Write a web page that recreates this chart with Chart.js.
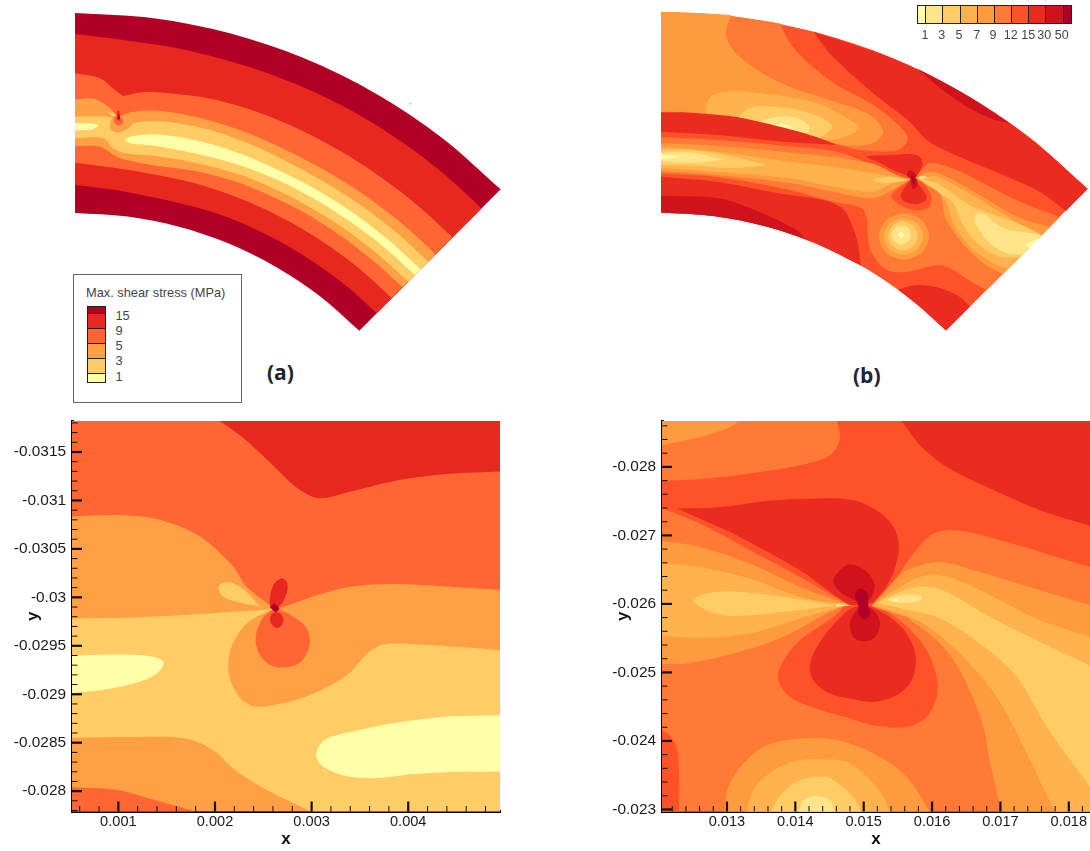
<!DOCTYPE html>
<html><head><meta charset="utf-8">
<script src="https://cdn.jsdelivr.net/npm/chart.js@4"></script>
<style>
html,body{margin:0;padding:0;background:#fff;width:1090px;height:851px;overflow:hidden}
canvas{position:absolute}
.t{position:absolute;font-family:"Liberation Sans",Arial,sans-serif;white-space:nowrap;color:#444}
.cap{position:absolute;font:bold 21px "Open Sans",sans-serif;color:#1c2530}
.sw{position:absolute;box-sizing:border-box;border:1px solid #222}
</style></head><body>
<canvas id="pa" width="450" height="340" style="left:60px;top:0"></canvas>
<canvas id="pb" width="440" height="340" style="left:650px;top:0"></canvas>
<canvas id="pc" width="505" height="436" style="left:0;top:415px"></canvas>
<canvas id="pd" width="490" height="436" style="left:600px;top:415px"></canvas>
<div id="ui"></div>
<script>
/* Colour levels */
const Y='#FFFFAA',L='#FFCC66',A='#FFA044',O='#FF6633',R='#E8271F',D='#B00026';
const c0='#FFFFAA',c1='#FFE48A',c2='#FFCC66',c3='#FFB24D',c4='#FF9B3F',c5='#FF7A35',c6='#FF5229',c7='#EC2B20',c8='#D0121C',c9='#B00026';

/* Legends */
const legendALabels=['15','9','5','3','1'];
const legendBLabels=['1','3','5','7','9','12','15','30','50'];

/* Curved-domain readings: [angle in degrees, radius] about the sector's centre */
const pol=a=>a.map(p=>{const t=p[0]*Math.PI/180;return [75+p[1]*Math.sin(t),615-p[1]*Math.cos(t),p[2]];});

/* Panel (a) contours, [x,y]; third element marks a sharp corner */
const aSector=[[75,13],[153.6,18.2],[230.8,33.5],[305.4,58.8],[376,93.7],[441.5,137.4],[500.7,189.3,1],[359.3,330.7,1],[319.7,296],[276,266.9],[228.8,243.6],[179,226.7],[127.5,216.5],[75,213]];
const aRed=[[75,34],...pol([[5,577],[10,576],[15,575],[20,575],[25,575],[30,575],[35,575],[40,575],[45,575,1],[45,426.7,1],[40,426.5],[35,426],[30,426],[25,426],[20,426],[15,425],[10,425],[5,427]]),[75,185]];
const aOrange=[[75,73.3],[100,78.3],[115,90],[123.3,96,1],[143.3,92.3],...pol([[10,530],[15,534],[20,535],[25,535],[30,534.5],[35,534],[40,534],[45,534,1],[45,448,1],[40,448],[35,448],[30,448],[25,448],[20,448],[15,448],[10,447.5],[5,449]]),[75,162.7]];
const aAmber=[[75,99.3],[93.3,98.7],[103,103],[110,108.3],[118,117,1],[133.3,111.7],...pol([[10,511.5],[15,512.5],[20,512],[25,510.5],[30,510],[35,510],[40,510],[45,510,1],[45,463.4,1],[40,463],[35,463],[30,463],[25,462.5],[20,462],[15,460],[10,456.5]]),[126.7,160],[116.7,156.7],[100,146.7],[75,146]];
const aLight=[[75,116.7],[106.7,116.7],[112,117.5,1],[110,125],[111.7,130.7],[120,132.3],[128.3,128.3],[135,122.7],...pol([[10,501],[15,503.5],[20,502.5],[25,500.5],[30,499.7],[35,499.5],[40,499.5],[45,499.7,1],[45,471.4,1],[40,471],[35,471],[30,470.5],[25,470.5],[20,470],[15,468],[10,466]]),[126.7,153.5],[113.3,148.3],[103.3,138.3],[75,138]];
const aYellow=[...pol([[45,489,1],[45,481,1],[40,480.5],[35,480],[30,480],[25,480],[20,479],[15,477],[10,476]]),[130,143.3],[125,140],[133.3,136],...pol([[10,488],[15,490],[20,490],[25,489],[30,489],[35,489],[40,489]])];
const aYellowLeft=[[75,123.3],[93.3,123.7],[98.3,125],[95,128.3],[88.3,130],[75,130.3]];
const aLobe=[[108.3,111.7],[113.3,113.3],[117,116.5,1],[111.7,115.7]];
const aBlob=[[115,116.7],[114,120.7],[116.7,125],[121.7,124.3],[123.3,120.7],[120,116.7]];
const aRedTip=[[117.3,111],[119.3,111],[119.6,117],[120,120],[117.5,120.5],[116.7,117.3]];
const aDarkTip=[[118,115],[119.5,115],[119.5,119],[118,119]];
const aSpeck=[[409.5,103],[411,103],[411,104.5],[409.5,104.5]];

/* Panel (b) contours */
const bSector=[[661,12],[739.8,17.2],[817.2,32.6],[892,57.9],[962.8,92.9],[1028.4,136.7],[1087.7,188.8,1],[946,330.5,1],[906.3,295.8],[862.5,266.5],[815.2,243.2],[765.3,226.2],[713.6,216],[661,212.5]];
const bC7Top=[[813.3,31.7],[892,57.9],[962.8,92.9],[1028.4,136.7],[1087.7,188.8,1],[1066,211,1],[1040,192],[1010,178],[960,157],[928,141],[910,122],[883,101],[852,75],[829,53]];
const bC8Top=[[916.7,68.3],[962.8,92.9],[1010,123.3,1],[993,119.3],[966.7,106.7],[940,88.3]];
const bC5Top=[[661,12],[700,13.3],[739.8,17.2],[780,23.4,1],[790,43],[813,67],[837,85],[870,103],[893,120],[908,138],[898,150],[860,150],[838,145],[783,135],[661,122]];
const bC4Top=[[661,12],[700,13.3],[731,15,1],[726,33],[733,50],[757,70],[790,87],[823,98],[870,115],[883,132],[873,143],[845,145],[783,133],[661,122]];
const bC3Lobe=[[706,116],[707,103],[713,95],[733,91],[767,94],[817,103],[850,120],[859,128],[850,135],[827,140],[790,134],[737,122]];
const bC2Lobe=[[737,119],[750,108],[777,106.7],[810,113],[832,125],[827,133],[817,138],[777,128]];
const bC1Lobe=[[758,122],[777,116.7],[797,118],[809,126],[807,133],[777,128]];
const bC0Lobe=[[771.7,125],[781.7,124],[791.7,127.3],[792,131],[772,127]];
const bLens=[[661,112.3],[683,112.3],[707,114],[737,117],[777,126],[810,135],[838,145,1],[783,141.7],[717,135],[661,131.7]];
const bC5Mid=[[661,137.3],[717,140],[783,145.7],[837,151.7],[873,165],[903,176.7],[912,178,1],[921.7,170],[930,163],[957,170],[990,186.7],[1023,203],[1060,217,1],[987,290,1],[973,283],[950,268],[937,265],[907,272],[887,270],[871.7,253],[868,236.7],[867,220],[861.7,208],[833,201.7],[790,190],[717,177],[661,173.5]];
const bC4Left=[[661,143.3],[717,146],[783,151.7],[870,163],[903,178],[912,179,1],[892,190],[873,198],[833,191.7],[790,183],[717,175],[661,171]];
const bC3Left=[[661,147],[717,151.7],[790,161.7],[833,166.7],[873,173],[907,179],[912,179.5,1],[893,183],[873,191.7],[833,186.7],[790,178.3],[717,171.7],[661,168.3]];
const bC2Left=[[661,150],[694,150],[733,156.7],[768,165,1],[733,168],[694,165.7],[661,165]];
const bC1Left=[[661,152.7],[694,152.7],[722.7,159.3,1],[700,162.7],[661,161.7]];
const bC0Left=[[661,155.5],[670,155],[680,156.7,1],[670,158.3],[661,159]];
const bC2Near=[[871.7,179.3],[890,176.7],[910,180,1],[890,183],[876,182]];
const bC7Low=[[661,176.7],[717,181.7],[783,194],[823,200],[843,209],[852,225],[857,240],[861,265.6,1],[815.2,243.2],[765.3,226.2],[713.6,216],[661,212.5]];
const bC8Low=[[661,195.7],[717,198],[750,208],[795,229],[806,239,1],[765.3,226.2],[713.6,216],[661,212.5]];
const bC7Tip=[[898,289.5],[917,285],[940,288],[960,297],[970,306.5,1],[946,330.5,1],[922,308.5]];
const bCircle4=[[929,236.5],[921.7,252.8],[904,259.5],[886.3,252.8],[879,236.5],[886.3,220.2],[904,213.5],[921.7,220.2]];
const bCircle3=[[923,236.5],[917.3,249.2],[903.5,254.5],[889.7,249.2],[884,236.5],[889.7,223.8],[903.5,218.5],[917.3,223.8]];
const bCircle2=[[917.5,236],[913.3,246.3],[903,250.5],[892.7,246.3],[888.5,236],[892.7,225.7],[903,221.5],[913.3,225.7]];
const bCircle1=[[911,235],[908.2,241.7],[901.5,244.5],[894.8,241.7],[892,235],[894.8,228.3],[901.5,225.5],[908.2,228.3]];
const bCircle0=[[904,235],[901,238],[898,235],[901,232]];
const bC4Right=[[915,178],[930,171.7],[943,175],[976.7,193.3],[1017,216.7],[1050,227,1],[1003,274,1],[983,263],[960,240],[945,216.7],[940,193],[925,181]];
const bC3Right=[[917,178.5],[936.7,176.7],[963,190],[996.7,210],[1040,237,1],[1008,269,1],[993,263],[970,246.7],[953,223],[946.7,203],[930,183]];
const bC2Right=[[918,179],[930,180.7],[943,186.7],[973,206.7],[1017,223],[1042,235,1],[1020,257,1],[1000,256.7],[977,243],[961.7,223],[953,203],[938,191.7]];
const bC1Right=[[975,215],[981.7,212.7],[1003,228],[1030,233],[1042,235,1],[1022,255,1],[1003,251.7],[986.7,240],[975,223]];
const bC0Right=[[1025,245],[1031,242],[1039,238,1],[1030,248]];
const bC1Near=[[916.7,178.3],[921.7,176],[927,177.3],[921.7,179.3]];
const bC6Blob=[[911,179,1],[891.7,195],[896.7,203],[913,210],[928,208],[931.7,198],[923,183],[914,179]];
const bC7Blob=[[911,179,1],[900.7,195],[905,201.7],[918,204],[926.7,198],[918,183.3],[914,179]];
const bC7Up=[[912,177],[893,170],[880,163],[866.7,156.7],[893,155],[916.7,155],[922.7,163.3],[916.7,176.7]];
const bC8a=[[906.7,175],[910,170],[916,175],[914,179],[910,178]];
const bC8b=[[910.7,181.7],[913.3,189],[917.3,185],[916,178],[911,178]];
const bC9=[[911,176],[913,175.5],[915,183],[913,184]];

/* Panel (c) contours, x and y in units of 0.001 */
const cXMajor=[1,2,3,4],cXMinor=[0.6,0.8,1.2,1.4,1.6,1.8,2.2,2.4,2.6,2.8,3.2,3.4,3.6,3.8,4.2,4.4,4.6,4.8];
const cYMajor=[-31.5,-31,-30.5,-30,-29.5,-29,-28.5,-28],cYMinor=[-31.8,-31.7,-31.6,-31.4,-31.3,-31.2,-31.1,-30.9,-30.8,-30.7,-30.6,-30.4,-30.3,-30.2,-30.1,-29.9,-29.8,-29.7,-29.6,-29.4,-29.3,-29.2,-29.1,-28.9,-28.8,-28.7,-28.6,-28.4,-28.3,-28.2,-28.1,-27.9,-27.8];
const cBase=[[0.52,-31.82,1],[4.95,-31.82,1],[4.95,-27.79,1],[0.52,-27.79,1]];
const cRedTop=[[2.052,-31.82],[2.293,-31.645],[2.541,-31.42],[2.852,-31.128],[3.076,-31.024],[3.403,-31.093],[3.921,-31.214],[4.438,-31.276],[4.95,-31.3,1],[4.95,-31.82,1]];
const cAmber=[[0.52,-30.834],[1.052,-30.848],[1.431,-30.8],[1.845,-30.628],[2.19,-30.317],[2.328,-30.11],[2.617,-29.886,1],[2.714,-29.903],[3.059,-30.024],[3.403,-30.11],[3.852,-30.138],[4.438,-30.11],[4.95,-30.076,1],[4.95,-27.79,1],[0.52,-27.79,1]];
const cOrangeLow=[[0.52,-28.041],[0.983,-28.014],[1.328,-27.921],[1.793,-27.79,1],[0.52,-27.79,1]];
const cLight=[[0.52,-29.783],[1.155,-29.793],[1.845,-29.828],[2.466,-29.869],[2.6,-29.88,1],[2.328,-29.731],[2.172,-29.49],[2.138,-29.248],[2.224,-29.007],[2.369,-28.886],[2.541,-28.876],[2.886,-28.955],[3.231,-29.11],[3.403,-29.23],[3.576,-29.421],[3.748,-29.514],[4.093,-29.514],[4.61,-29.483],[4.95,-29.455,1],[4.95,-27.79,1],[2.99,-27.79,1],[2.576,-27.99],[2.369,-28.11],[2.19,-28.231],[1.983,-28.421],[1.707,-28.541],[1.155,-28.559],[0.52,-28.552]];
const cYellowLeft=[[0.52,-29.397],[0.983,-29.41],[1.328,-29.393],[1.466,-29.334],[1.397,-29.214],[1.155,-29.11],[0.81,-29.041],[0.52,-29.014]];
const cYellowRight=[[4.95,-28.783,1],[4.95,-28.203,1],[4.438,-28.197],[4.093,-28.179],[3.645,-28.134],[3.334,-28.162],[3.128,-28.248],[3.048,-28.369],[3.128,-28.524],[3.403,-28.61],[3.921,-28.714],[4.438,-28.772]];
const cLobe=[[2.034,-30.11],[2.086,-30.152],[2.19,-30.145],[2.345,-30.041],[2.466,-29.914],[2.6,-29.886,1],[2.259,-29.945],[2.086,-30.007]];
const cBlob=[[2.6,-29.88,1],[2.49,-29.783],[2.421,-29.593],[2.455,-29.421],[2.576,-29.3],[2.714,-29.276],[2.886,-29.334],[2.983,-29.524],[2.938,-29.697],[2.783,-29.817],[2.662,-29.876]];
const cRedUp=[[2.576,-29.903],[2.576,-30.041],[2.617,-30.145],[2.697,-30.197],[2.748,-30.145],[2.741,-30.041],[2.662,-29.903]];
const cRedDown=[[2.593,-29.834],[2.569,-29.766],[2.61,-29.697],[2.662,-29.686],[2.707,-29.748],[2.679,-29.834]];
const cDark=[[2.569,-29.897,1],[2.617,-29.938,1],[2.669,-29.886,1],[2.628,-29.841,1]];

/* Panel (d) contours, x and y in units of 0.001 */
const dXMajor=[13,14,15,16,17,18],dXMinor=[12.2,12.4,12.6,12.8,13.2,13.4,13.6,13.8,14.2,14.4,14.6,14.8,15.2,15.4,15.6,15.8,16.2,16.4,16.6,16.8,17.2,17.4,17.6,17.8,18.2];
const dYMajor=[-28,-27,-26,-25,-24,-23],dYMinor=[-28.6,-28.4,-28.2,-27.8,-27.6,-27.4,-27.2,-26.8,-26.6,-26.4,-26.2,-25.8,-25.6,-25.4,-25.2,-24.8,-24.6,-24.4,-24.2,-23.8,-23.6,-23.4,-23.2];
const dBase=[[12.05,-28.67,1],[18.31,-28.67,1],[18.31,-22.96,1],[12.05,-22.96,1]];
const dC5Top=[[12.05,-27.796],[12.605,-27.82],[13.337,-27.903],[14.068,-28.024],[14.507,-28.17],[14.654,-28.414],[14.605,-28.67,1],[12.05,-28.67,1]];
const dC4Top=[[12.05,-28.316],[12.605,-28.438],[12.995,-28.56],[13.19,-28.67,1],[12.05,-28.67,1]];
const dC7TopRight=[[15.556,-28.67],[15.824,-28.316],[16.215,-28],[16.849,-27.684],[17.58,-27.367],[18.31,-27.139,1],[18.31,-28.67,1]];
const dC5Main=[[12.05,-27.392],[12.605,-27.173],[13.337,-26.783],[14.068,-26.394],[14.751,-26.005,1],[14.556,-25.81],[14.068,-25.47],[13.8,-25.129],[13.751,-24.886],[13.922,-24.642],[14.312,-24.472],[14.8,-24.326],[15.141,-24.229],[15.629,-24.204],[15.922,-24.35],[16.068,-24.642],[16.068,-24.934],[15.922,-25.324],[15.678,-25.625],[15.385,-25.859],[15.117,-25.966,1],[15.483,-26.394],[15.727,-26.735],[16.02,-27.027],[16.361,-27.075],[17.093,-26.905],[17.824,-26.686],[18.31,-26.54,1],[18.31,-22.96,1],[12.05,-22.96,1]];
const dC6Corner=[[12.05,-24.165],[12.166,-24.083],[12.273,-23.864],[12.298,-23.474],[12.298,-22.96,1],[12.05,-22.96,1]];
const dC4Bump=[[12.956,-22.96],[13.02,-23.328],[13.239,-23.669],[13.58,-23.937],[14.068,-24.034],[14.556,-24.024],[14.8,-23.961],[15.141,-23.815],[15.532,-23.572],[15.776,-23.28],[15.971,-22.96]];
const dC3Bump=[[13.288,-22.96],[13.385,-23.28],[13.678,-23.572],[14.068,-23.718],[14.556,-23.728],[14.8,-23.669],[15.093,-23.426],[15.288,-23.183],[15.385,-22.96]];
const dC2Bump=[[13.629,-22.96],[13.8,-23.231],[14.068,-23.426],[14.459,-23.474],[14.654,-23.353],[14.849,-23.183],[14.971,-22.96]];
const dC1Bump=[[14.044,-22.96],[14.117,-23.134],[14.312,-23.197],[14.507,-23.134],[14.58,-22.96]];
const dC4Left=[[12.05,-26.92],[12.605,-26.832],[13.337,-26.589],[14.068,-26.248],[14.776,-25.995,1],[14.459,-25.859],[13.824,-25.518],[13.093,-25.275],[12.41,-25.129],[12.05,-25.129]];
const dC3Left=[[12.05,-26.599],[12.605,-26.54],[13.337,-26.37],[14.068,-26.102],[14.776,-25.99,1],[14.068,-25.786],[13.337,-25.567],[12.605,-25.504],[12.05,-25.533]];
const dC2Left=[[12.507,-26.054],[12.702,-26.151],[13.093,-26.185],[13.824,-26.102],[14.605,-25.981,1],[13.824,-25.883],[13.093,-25.825],[12.702,-25.908]];
const dC1Left=[[14.6,-26],[14.85,-25.98,1],[14.6,-25.96]];
const dC4Right=[[15.12,-25.97,1],[15.459,-26.345],[15.629,-26.491],[16.117,-26.613],[16.605,-26.491],[17.337,-26.273],[18.31,-25.981,1],[18.31,-22.96,1],[17.02,-22.96,1],[16.849,-23.669],[16.751,-24.204],[16.459,-24.934],[16.117,-25.421],[15.629,-25.81]];
const dC3Right=[[15.12,-25.98,1],[15.532,-26.248],[15.922,-26.418],[16.312,-26.37],[16.849,-26.127],[17.58,-25.762],[18.31,-25.518,1],[18.31,-22.96,1],[17.8,-22.96,1],[17.385,-23.815],[16.946,-24.642],[16.459,-25.226],[15.873,-25.713],[15.385,-25.908]];
const dC2Right=[[15.19,-26.015,1],[15.532,-26.175],[15.873,-26.258],[16.215,-26.175],[16.849,-25.81],[17.58,-25.445],[18.31,-25.105,1],[18.31,-23.328,1],[17.678,-24.204],[17.239,-24.934],[16.702,-25.421],[16.117,-25.786],[15.483,-25.946]];
const dC1Right=[[15.337,-26.063],[15.58,-26.127],[15.8,-26.127],[15.859,-26.078],[15.751,-26.029],[15.483,-26.019]];
const dC0Right=[[15.385,-26.054],[15.507,-26.073],[15.483,-26.039]];
const dC7Up=[[12.273,-27.392],[12.849,-27.406],[13.58,-27.504],[14.312,-27.538],[14.654,-27.538],[14.946,-27.489],[15.288,-27.294],[15.483,-27.027],[15.507,-26.735],[15.385,-26.345],[15.141,-26.029],[15,-25.99,1],[14.776,-26],[14.068,-26.491],[13.093,-27.027]];
const dC7Down=[[15,-25.99,1],[14.776,-25.908],[14.41,-25.518],[14.215,-25.129],[14.263,-24.886],[14.507,-24.691],[14.8,-24.618],[15.141,-24.569],[15.483,-24.667],[15.702,-24.886],[15.761,-25.226],[15.629,-25.567],[15.385,-25.81],[15.117,-25.956]];
const dC8Up=[[14.556,-26.345],[14.654,-26.491],[14.8,-26.579],[15.02,-26.491],[15.156,-26.297],[15.117,-26.102],[15,-25.99,1],[14.654,-26.175]];
const dC8Down=[[14.8,-25.713],[14.849,-25.518],[15,-25.455],[15.166,-25.518],[15.239,-25.713],[15.166,-25.883],[15.044,-25.956],[14.898,-25.908]];
const dC9=[[14.873,-26.127],[14.946,-26.224],[15.054,-26.151],[15.068,-25.956],[15.093,-25.849],[15,-25.776],[14.922,-25.859],[14.922,-25.981]];

const ring=a=>[a[a.length-1],...a,a[0],a[1]];
function build(layers){
  // last layer is painted on top: Chart.js paints dataset 0 last
  return layers.map(l=>{
    const pts=(l[2]?ring(l[1]):l[1]).flatMap(p=>p[2]?[{x:p[0],y:p[1]},{x:p[0],y:p[1]}]:[{x:p[0],y:p[1]}]);
    return {data:pts,backgroundColor:l[0],borderColor:l[0],borderWidth:0,fill:'shape',showLine:true,pointRadius:0,tension:0.33};
  }).reverse();
}
const common={responsive:false,animation:false,events:[],plugins:{legend:{display:false},tooltip:{enabled:false},title:{display:false}}};
function hiddenChart(id,layers,xr,yr){
  new Chart(document.getElementById(id),{type:'scatter',data:{datasets:build(layers)},options:{...common,layout:{padding:0,autoPadding:false},
    scales:{x:{type:'linear',display:false,min:xr[0],max:xr[1]},y:{type:'linear',display:false,reverse:true,min:yr[0],max:yr[1]}}}});
}
const inwardTicks={id:'inwardTicks',afterDraw(ch){
  const c=ch.ctx,a=ch.chartArea;c.save();c.strokeStyle='#111';
  for(const s of [ch.scales.x,ch.scales.y]){
    const major=s.options.majorSet;
    s.ticks.forEach(t=>{
      const m=major.includes(t.value),len=m?10:5.5,p=s.getPixelForValue(t.value);
      c.lineWidth=m?2.2:1;c.beginPath();
      if(s.axis==='x'){c.moveTo(p,a.bottom);c.lineTo(p,a.bottom-len);}
      else{c.moveTo(a.left,p);c.lineTo(a.left+len,p);}
      c.stroke();
    });
  }
  c.restore();
}};
function axisChart(id,layers,xr,yr,xMaj,xMin,yMaj,yMin,pad,xSize,ySize,yTitlePad){
  const mk=(maj,min,size,title,tickPad,titlePad,extra)=>({type:'linear',majorSet:maj,
    afterBuildTicks:s=>{s.ticks=[...maj,...min].sort((p,q)=>p-q).map(v=>({value:v}));},
    ticks:{autoSkip:false,maxRotation:0,minRotation:0,padding:tickPad,color:'#1a1a1a',font:{family:'"Liberation Sans"',size:size},
      callback:v=>maj.includes(v)?String(v/1000):''},
    grid:{display:false,drawTicks:false},border:{display:true,color:'#000',width:3},
    title:{display:true,text:title,color:'#111',padding:titlePad,font:{family:'"Liberation Sans"',size:17,weight:'bold'}},...extra});
  const noPad=s=>{s.paddingTop=0;s.paddingBottom=0;s.paddingLeft=0;s.paddingRight=0;};
  new Chart(document.getElementById(id),{type:'scatter',data:{datasets:build(layers)},plugins:[inwardTicks],options:{...common,layout:{padding:pad,autoPadding:false},
    scales:{
      x:mk(xMaj,xMin,14.6,'x',2,0,{min:xr[0],max:xr[1],afterFit:s=>{s.height=xSize;noPad(s);}}),
      y:mk(yMaj,yMin,15.4,'y',6,{top:yTitlePad,bottom:0},{min:yr[0],max:yr[1],reverse:true,afterFit:s=>{s.width=ySize;noPad(s);}})
    }}});
}
hiddenChart('pa',[[D,aSector],[R,aRed],[O,aOrange],[A,aAmber],[L,aLight],[Y,aYellow],[Y,aYellowLeft],[L,aLobe],[O,aBlob,1],[R,aRedTip],[D,aDarkTip],['#E8A0B8',aSpeck]],[60,510],[0,340]);
hiddenChart('pb',[[c6,bSector],[c7,bC7Top],[c8,bC8Top],[c5,bC5Top],[c4,bC4Top],[c3,bC3Lobe],[c2,bC2Lobe],[c1,bC1Lobe],[c0,bC0Lobe],[c7,bLens],
  [c5,bC5Mid],[c4,bC4Left],[c3,bC3Left],[c2,bC2Left],[c1,bC1Left],[c0,bC0Left],[c2,bC2Near],[c7,bC7Low],[c8,bC8Low],[c7,bC7Tip],
  [c4,bCircle4,1],[c3,bCircle3,1],[c2,bCircle2,1],[c1,bCircle1,1],[c0,bCircle0,1],
  [c4,bC4Right],[c3,bC3Right],[c2,bC2Right],[c1,bC1Right],[c0,bC0Right],[c1,bC1Near],
  [c6,bC6Blob],[c7,bC7Blob],[c7,bC7Up],[c8,bC8a,1],[c8,bC8b,1],[c9,bC9]],[650,1090],[0,340]);
axisChart('pc',[[O,cBase],[R,cRedTop],[A,cAmber],[O,cOrangeLow],[L,cLight],[Y,cYellowLeft],[Y,cYellowRight],[L,cLobe,1],[O,cBlob],[R,cRedUp,1],[R,cRedDown,1],[D,cDark]],
  [0.52,4.95],[-31.82,-27.79],cXMajor,cXMinor,cYMajor,cYMinor,{left:0,right:5,top:6,bottom:1},38.5,72,23);
axisChart('pd',[[c6,dBase],[c5,dC5Top],[c4,dC4Top],[c7,dC7TopRight],[c5,dC5Main],[c6,dC6Corner],[c4,dC4Bump],[c3,dC3Bump],[c2,dC2Bump],[c1,dC1Bump],
  [c4,dC4Left],[c3,dC3Left],[c2,dC2Left,1],[c1,dC1Left],[c4,dC4Right],[c3,dC3Right],[c2,dC2Right],[c1,dC1Right,1],[c0,dC0Right],
  [c7,dC7Up],[c7,dC7Down],[c8,dC8Up,1],[c8,dC8Down,1],[c9,dC9,1]],
  [12.05,18.31],[-28.67,-22.97],dXMajor,dXMinor,dYMajor,dYMinor,{left:0,right:0,top:6,bottom:1},38.5,62,13);

/* Legends and captions as real text */
const ui=document.getElementById('ui');
function div(cls,css,txt){const e=document.createElement('div');e.className=cls;e.style.cssText=css;if(txt!=null)e.textContent=txt;ui.appendChild(e);return e;}
div('','position:absolute;left:72.5px;top:273.5px;width:167px;height:127px;border:1px solid #666;background:#fff');
div('t','left:86px;top:285px;font-size:12.8px;line-height:15px','Max. shear stress (MPa)');
const aCols=[D,R,O,A,L,Y],aEdges=[305.5,312.7,328.3,343.3,358.3,373.3,381.7];
aCols.forEach((c,i)=>div('sw',`left:86.5px;width:19px;top:${aEdges[i]}px;height:${aEdges[i+1]-aEdges[i]+1}px;background:${c}`));
const aLabY=[315,330.3,345.7,360.7,376];
legendALabels.forEach((s,i)=>div('t',`left:115.5px;top:${aLabY[i]-7.5}px;font-size:12.8px;line-height:15px`,s));
const bCols=[c0,c1,c2,c3,c4,c5,c6,c7,c8,c9],bEdges=[916.7,925,942.3,959.7,977,994,1010.7,1028.3,1045.3,1062.7,1071];
bCols.forEach((c,i)=>div('sw',`top:5px;height:19px;left:${bEdges[i]}px;width:${bEdges[i+1]-bEdges[i]+1}px;background:${c}`));
const bLabX=[925,941.7,959,976.7,993,1010.7,1028.3,1044.3,1061.7];
legendBLabels.forEach((s,i)=>div('t',`left:${bLabX[i]-15}px;width:30px;text-align:center;top:28px;font-size:12.5px;line-height:15px`,s));
div('cap','left:267px;top:358px;line-height:28px','(a)');
div('cap','left:853px;top:361px;line-height:28px','(b)');
</script>
</body></html>
